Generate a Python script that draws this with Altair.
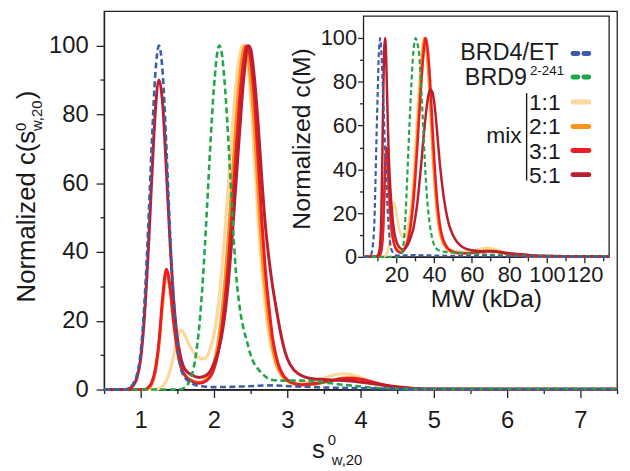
import altair as alt
import pandas as pd

# ---------------- main panel data: s(0)w,20 distributions ----------------
M_BRD4_X = [0.5, 0.8, 0.85, 0.9, 0.95, 1.0, 1.05, 1.1, 1.15, 1.2, 1.25, 1.3, 1.35, 1.4, 1.45, 1.5, 1.55, 1.6, 1.65, 1.7, 1.8, 2.0, 2.4, 2.8, 3.0, 3.5, 4.0, 4.4, 4.6, 7.5]
M_BRD4_Y = [0, 0, 0.5, 1.8, 4.5, 11, 25, 46, 71, 92, 100, 92, 71, 46, 26, 13, 6, 3.6, 2.5, 1.8, 1.0, 0.7, 0.9, 1.2, 1.0, 0.6, 0.4, 0.2, 0, 0]

M_BRD9_X = [0.5, 1.5, 1.55, 1.6, 1.65, 1.7, 1.75, 1.8, 1.85, 1.9, 1.95, 2.0, 2.05, 2.075, 2.1, 2.15, 2.2, 2.25, 2.3, 2.35, 2.4, 2.45, 2.5, 2.55, 2.6, 2.65, 2.7, 2.75, 2.8, 2.9, 3.0, 3.2, 3.4, 3.6, 3.8, 4.0, 4.2, 4.4, 4.6, 5.0, 6.0, 7.5]
M_BRD9_Y = [0, 0, 0.1, 0.6, 1.8, 4.4, 9.6, 18.6, 32.5, 51, 71, 88, 98.6, 100, 98.6, 88, 71, 51, 34, 24, 18, 14, 10, 7.5, 6, 4.8, 3.8, 3.1, 2.8, 2.6, 2.6, 2.6, 2.3, 1.8, 1.3, 0.9, 0.5, 0.3, 0.2, 0.2, 0.2, 0.2]

M_11_X = [0.5, 1.2, 1.25, 1.3, 1.35, 1.4, 1.45, 1.5, 1.55, 1.6, 1.65, 1.7, 1.75, 1.8, 1.85, 1.9, 1.95, 2.0, 2.05, 2.1, 2.15, 2.2, 2.25, 2.3, 2.35, 2.39, 2.45, 2.5, 2.55, 2.6, 2.65, 2.7, 2.75, 2.8, 2.85, 2.9, 2.95, 3.0, 3.1, 3.2, 3.4, 3.6, 3.75, 3.9, 4.0, 4.2, 4.4, 4.6, 5.0, 7.5]
M_11_Y = [0, 0, 0.3, 1, 2.5, 5.5, 10, 15, 17.3, 16, 13.5, 11.5, 10, 9.2, 8.9, 9.5, 12, 16, 23, 33, 46, 61, 76, 89, 97, 100, 96, 85, 68, 50, 35, 24, 16, 10.5, 7, 4.8, 3.4, 2.6, 1.9, 1.9, 2.7, 4.0, 4.6, 4.2, 3.5, 1.9, 0.8, 0.3, 0.1, 0.1]

M_21_X = [0.5, 1.05, 1.1, 1.15, 1.2, 1.25, 1.3, 1.35, 1.4, 1.45, 1.5, 1.55, 1.6, 1.7, 1.8, 1.9, 2.0, 2.05, 2.1, 2.15, 2.2, 2.25, 2.3, 2.35, 2.42, 2.45, 2.5, 2.55, 2.6, 2.65, 2.7, 2.75, 2.8, 2.85, 2.9, 2.95, 3.0, 3.1, 3.2, 3.4, 3.6, 3.8, 3.9, 4.0, 4.2, 4.4, 4.6, 5.0, 7.5]
M_21_Y = [0, 0, 0.3, 1.5, 5, 13, 25, 33.5, 29, 19, 11, 6.5, 4.2, 2.6, 2.1, 3.2, 8, 13, 21, 32, 46, 62, 78, 91, 100, 98, 90, 76, 58, 41, 29, 19, 12, 7.5, 5, 3.4, 2.5, 1.6, 1.3, 1.6, 2.6, 3.4, 3.4, 3.0, 1.8, 0.8, 0.3, 0.1, 0.1]

M_31_X = [0.5, 1.05, 1.1, 1.15, 1.2, 1.25, 1.3, 1.35, 1.4, 1.45, 1.5, 1.55, 1.6, 1.7, 1.8, 1.9, 2.0, 2.05, 2.1, 2.15, 2.2, 2.25, 2.3, 2.35, 2.4, 2.45, 2.5, 2.55, 2.6, 2.65, 2.7, 2.75, 2.8, 2.85, 2.9, 2.95, 3.0, 3.1, 3.2, 3.4, 3.6, 3.8, 3.9, 4.0, 4.2, 4.4, 4.6, 5.0, 7.5]
M_31_Y = [0, 0, 0.5, 2, 6, 14, 27, 35, 30, 20, 11.5, 6.5, 4.2, 2.4, 1.8, 2.6, 6, 10, 16.5, 26, 38, 53, 69, 84, 95, 100, 96, 85, 68, 50, 35, 24, 15, 9.5, 6, 4, 2.8, 1.7, 1.4, 1.8, 2.6, 3.2, 3.2, 3.0, 2.0, 1.0, 0.4, 0.1, 0.1]

M_51_X = [0.5, 0.8, 0.85, 0.9, 0.95, 1.0, 1.05, 1.1, 1.15, 1.2, 1.25, 1.3, 1.35, 1.4, 1.45, 1.5, 1.55, 1.6, 1.7, 1.8, 1.9, 2.0, 2.05, 2.1, 2.15, 2.2, 2.25, 2.3, 2.35, 2.4, 2.47, 2.5, 2.55, 2.6, 2.65, 2.7, 2.75, 2.8, 2.85, 2.9, 2.95, 3.0, 3.1, 3.2, 3.3, 3.5, 3.7, 3.9, 4.1, 4.3, 4.5, 4.7, 5.0, 7.5]
M_51_Y = [0, 0, 0.4, 1.2, 3.5, 9, 21, 39, 61, 81, 90, 83, 64, 43, 26, 15, 9, 6, 4.2, 3.5, 4.2, 7.5, 10.5, 15, 22, 32, 45, 60, 75, 89, 100, 99, 91, 78, 62, 48, 38, 30, 23.5, 17.5, 12.5, 9, 5.5, 4, 3.3, 2.9, 2.7, 2.4, 1.9, 1.3, 0.8, 0.4, 0.15, 0.1]

# ---------------- inset data: MW distributions ----------------
I_BRD4_X = [2.5, 5, 6, 7, 7.5, 8, 8.5, 9, 9.5, 10, 10.5, 11, 11.3, 12, 13, 14, 15, 16, 17, 18, 19, 20, 25, 30, 40, 60, 80, 100, 133]
I_BRD4_Y = [0, 0, 0.5, 2.5, 5.5, 11, 22, 40, 58, 74, 90, 98, 100, 93, 72, 48, 27, 12, 4.5, 2, 1, 0.6, 0.7, 0.8, 0.6, 0.4, 0.2, 0.1, 0]

I_BRD9_X = [2.5, 20, 22, 23, 24, 25, 26, 27, 28, 29, 30.2, 31, 32, 33, 34, 35, 36, 37, 38, 39, 40, 42, 45, 50, 55, 60, 70, 80, 100, 133]
I_BRD9_Y = [0, 0, 0.5, 2, 8, 22, 42, 62, 80, 94, 100, 98, 93, 80, 63, 45, 30, 20, 13, 8.5, 5.5, 3.2, 2.4, 2.0, 1.8, 1.4, 1.0, 0.6, 0.3, 0.2]

I_11_X = [2.5, 13, 14, 15, 16, 17, 17.8, 18.6, 19.5, 20.5, 21.5, 22.5, 23.5, 24.5, 25.5, 26.5, 27.5, 28.5, 29.5, 30.5, 31.5, 32.5, 33.5, 34.5, 35.5, 36.5, 37.5, 38.5, 39.5, 40.5, 41.5, 42.5, 44, 46, 48, 50, 55, 60, 65, 68, 72, 75, 80, 85, 90, 100, 133]
I_11_Y = [0, 0, 0.3, 1.5, 5, 13, 21, 25, 22.5, 17, 12.5, 10, 9.0, 9.2, 11, 15, 21, 30, 42, 56, 71, 84, 94, 100, 98, 90, 77, 61, 45, 32, 22, 15, 9, 5.5, 3.7, 2.8, 2.3, 2.8, 3.8, 4.1, 3.6, 2.8, 1.6, 0.8, 0.4, 0.1, 0.1]

I_21_X = [2.5, 10, 11, 12, 13, 13.5, 14, 14.6, 15, 15.5, 16, 17, 18, 19, 20, 21, 22, 23, 24, 25, 26, 27, 28, 29, 30, 31, 32, 33, 34, 34.8, 35.5, 36.5, 37.5, 38.5, 39.5, 40.5, 41.5, 42.5, 44, 46, 48, 50, 55, 60, 65, 68, 72, 75, 80, 85, 90, 100, 133]
I_21_Y = [0, 0, 0.5, 3, 15, 28, 42, 48, 45, 36, 27, 15, 9, 5.5, 3.8, 2.8, 2.4, 2.6, 3.6, 5.5, 8.5, 13, 20, 29, 41, 55, 70, 84, 95, 100, 98, 90, 76, 60, 44, 31, 21, 14, 8, 4.5, 2.8, 2.0, 1.5, 1.8, 2.6, 3.0, 2.8, 2.2, 1.2, 0.6, 0.3, 0.1, 0.1]

I_31_X = [2.5, 10, 11, 12, 13, 13.5, 14, 14.7, 15.3, 16, 16.5, 17, 18, 19, 20, 21, 22, 23, 24, 25, 26, 27, 28, 29, 30, 31, 32, 33, 34, 35, 35.5, 36.3, 37.3, 38.3, 39.3, 40.3, 41.3, 42.3, 43.5, 45, 47, 50, 55, 60, 65, 68, 72, 75, 80, 85, 90, 100, 133]
I_31_Y = [0, 0, 0.5, 3, 14, 27, 42, 50, 46, 32, 24, 17, 9, 5, 3.2, 2.3, 1.9, 2.1, 3.0, 4.6, 7, 11, 17, 25, 36, 49, 63, 77, 89, 98, 100, 97, 88, 74, 57, 42, 29, 20, 12.5, 7.5, 4.2, 2.4, 1.6, 1.8, 2.2, 2.5, 2.4, 2.0, 1.2, 0.6, 0.3, 0.1, 0.1]

I_51_X = [2.5, 9, 10, 11, 12, 12.5, 13, 13.5, 14, 14.5, 15, 15.5, 16, 17, 18, 19, 20, 21, 22, 23, 24, 26, 28, 29, 30, 31, 32, 33, 34, 35, 36, 37, 38, 39, 40, 41, 42, 43, 44, 45, 46, 47, 48, 50, 52, 55, 60, 65, 70, 75, 80, 90, 100, 110, 133]
I_51_Y = [0, 0, 0.5, 3, 20, 45, 75, 95, 100, 92, 75, 58, 44, 28, 17, 10.5, 7, 5, 4, 3.5, 3.6, 5.5, 10, 13, 18, 24, 32, 41, 51, 60, 68, 74, 76.5, 75.5, 71, 63, 53, 43, 35, 28, 22.5, 18, 14.5, 10, 7, 4.5, 3, 2.6, 2.5, 2.2, 1.6, 0.9, 0.5, 0.3, 0.2]

# ---------------- axis tick values / labels ----------------
MAIN_X_TICKS = [0.5, 1, 1.5, 2, 2.5, 3, 3.5, 4, 4.5, 5, 5.5, 6, 6.5, 7, 7.5]
MAIN_Y_TICKS = [0, 10, 20, 30, 40, 50, 60, 70, 80, 90, 100]
INSET_X_TICKS = [10, 20, 30, 40, 50, 60, 70, 80, 90, 100, 110, 120, 130]
INSET_Y_TICKS = [0, 10, 20, 30, 40, 50, 60, 70, 80, 90, 100]

COL_BRD4 = "#3C5CA8"
COL_BRD9 = "#22A64A"
COL_11 = "#FDD89C"
COL_21 = "#F7941D"
COL_31 = "#EC1C24"
COL_51 = "#BC1E2D"

FONT = "Liberation Sans"
TXT = "#1a1a1a"
AX = "#231F20"
dummy = pd.DataFrame({"a": [0]})


def frame(xs, ys):
    return pd.DataFrame({"x": xs, "y": ys})


def axis_common(values, major_test, major, minor, size, pad, **kw):
    return alt.Axis(
        values=values,
        labelExpr=f"({major_test}) ? format(datum.value, 'd') : ''",
        tickSize={"condition": {"test": major_test, "value": major}, "value": minor},
        labelFontSize=size, labelFont=FONT, labelColor=TXT, labelPadding=pad,
        labelFlush=False, labelOverlap=False, grid=False, title=None,
        domainColor=AX, domainWidth=1.3, tickColor=AX, tickWidth=1.3, **kw)


mx = alt.X("x:Q", scale=alt.Scale(domain=[0.5, 7.5], nice=False, zero=False),
           axis=axis_common(MAIN_X_TICKS, "datum.value % 1 === 0", 8, 4, 24, 11))
my = alt.Y("y:Q", scale=alt.Scale(domain=[0, 110], nice=False, zero=False),
           axis=axis_common(MAIN_Y_TICKS, "datum.value % 20 === 0", 8, 4, 24, 8))

ix = alt.X("x:Q", scale=alt.Scale(domain=[2.5, 133], nice=False, zero=False, range=[262, 510]),
           axis=axis_common(INSET_X_TICKS, "datum.value % 20 === 0", 6, 4, 22, 2,
                            orient="bottom", offset=-134))
iy = alt.Y("y:Q", scale=alt.Scale(domain=[0, 110], nice=False, zero=False, range=[248, 5]),
           axis=axis_common(INSET_Y_TICKS, "datum.value % 20 === 0", 6, 4, 22, 1,
                            orient="left", offset=-262))


def line(df, color, width, xenc, yenc, dash=None):
    kw = dict(interpolate="monotone", color=color, strokeWidth=width, strokeJoin="round")
    if dash:
        kw["strokeDash"] = dash
    return alt.Chart(df).mark_line(**kw).encode(x=xenc, y=yenc)


main_layers = [
    line(frame(M_11_X, M_11_Y), COL_11, 3.2, mx, my),
    line(frame(M_21_X, M_21_Y), COL_21, 3, mx, my),
    line(frame(M_31_X, M_31_Y), COL_31, 3, mx, my),
    line(frame(M_51_X, M_51_Y), COL_51, 3, mx, my),
    line(frame(M_BRD9_X, M_BRD9_Y), COL_BRD9, 2.6, mx, my, [6, 3.5]),
    line(frame(M_BRD4_X, M_BRD4_Y), COL_BRD4, 2.6, mx, my, [6, 3.5]),
]
inset_layers = [
    line(frame(I_11_X, I_11_Y), COL_11, 2.6, ix, iy),
    line(frame(I_21_X, I_21_Y), COL_21, 2.5, ix, iy),
    line(frame(I_31_X, I_31_Y), COL_31, 2.5, ix, iy),
    line(frame(I_51_X, I_51_Y), COL_51, 2.5, ix, iy),
    line(frame(I_BRD9_X, I_BRD9_Y), COL_BRD9, 2.2, ix, iy, [5, 3]),
    line(frame(I_BRD4_X, I_BRD4_Y), COL_BRD4, 2.2, ix, iy, [5, 3]),
]

inset_bg = alt.Chart(dummy).mark_rect(fill="white", stroke=AX, strokeWidth=1.3).encode(
    x=alt.value(262), x2=alt.value(510), y=alt.value(5), y2=alt.value(248))


def text(t, x, y, size=23, align="left", angle=0, baseline="alphabetic"):
    return alt.Chart(dummy).mark_text(text=t, align=align, baseline=baseline, angle=angle,
                                      fontSize=size, font=FONT, color=TXT).encode(
        x=alt.value(x), y=alt.value(y))


def sample(y, color, dash=None):
    kw = dict(color=color, strokeWidth=5, strokeCap="round")
    if dash:
        kw["strokeDash"] = dash
    return alt.Chart(dummy).mark_rule(**kw).encode(
        x=alt.value(473.5), x2=alt.value(489.5), y=alt.value(y))


annotations = [
    # main y title: Normalized c(s0 w,20)
    text("Normalized c(s", -70, 294, size=26, angle=270),
    text("0", -79, 121, size=15, angle=270),
    text("w,20", -63, 121, size=15, angle=270),
    text(")", -70, 89, size=26, angle=270),
    # main x title: s0 w,20
    text("s", 210, 451, size=26),
    text("0", 226, 438, size=15),
    text("w,20", 230, 458, size=15),
    # inset titles
    text("Normalized c(M)", 208, 129, size=25, align="center", angle=270),
    text("MW (kDa)", 386, 299, size=25, align="center"),
    # legend
    text("BRD4/ET", 459, 49, size=23.5, align="right"),
    text("BRD9", 427, 74.3, size=23.5, align="right"),
    text("2-241", 430, 64, size=13.5),
    text("1:1", 429, 99.3, size=23),
    text("2:1", 429, 124.3, size=23),
    text("3:1", 429, 149.3, size=23),
    text("5:1", 429, 173.7, size=23),
    text("mix", 421.7, 132.7, size=23, align="right"),
    alt.Chart(dummy).mark_rule(color=TXT, strokeWidth=1.4).encode(
        x=alt.value(426.7), y=alt.value(82.7), y2=alt.value(171)),
    sample(42.7, COL_BRD4, [5, 6]),
    sample(66.5, COL_BRD9, [5, 6]),
    sample(91.7, COL_11),
    sample(116.3, COL_21),
    sample(140.7, COL_31),
    sample(165, COL_51),
]

chart = alt.layer(
    alt.layer(*main_layers),
    inset_bg,
    alt.layer(*inset_layers),
    *annotations,
).resolve_scale(x="independent", y="independent").properties(
    width=518, height=382,
    padding={"left": 97, "top": 1, "right": 5, "bottom": 80},
    autosize=alt.AutoSizeParams(type="none"),
).configure_view(stroke=AX, strokeWidth=1.3)

chart.save("out.html", embed_options={"renderer": "svg", "actions": False})
